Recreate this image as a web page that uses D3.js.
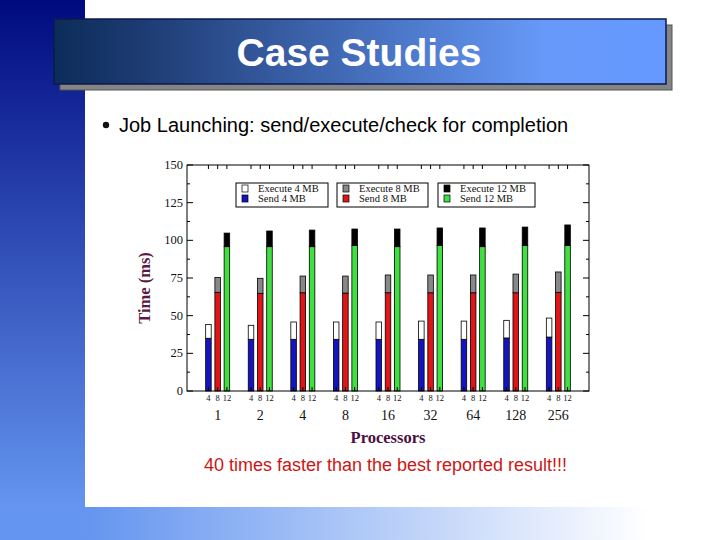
<!DOCTYPE html>
<html><head><meta charset="utf-8">
<script src="https://cdn.jsdelivr.net/npm/d3@7"></script>
<style>html,body{margin:0;padding:0;background:#fff;}svg{display:block;}</style>
</head><body>
<script>
const processors = ["1","2","4","8","16","32","64","128","256"];
const sizes = ["4","8","12"];
const send4  = [35.0,34.3,34.3,34.3,34.3,34.3,34.3,35.2,35.8];
const exec4  = [9.2,9.3,11.5,11.5,11.5,12.1,12.1,11.7,12.6];
const send8  = [65.5,64.8,65.2,65.0,65.2,65.2,65.2,65.2,65.5];
const exec8  = [9.9,10.0,11.1,11.3,11.8,11.8,11.8,12.4,13.5];
const send12 = [95.8,95.8,95.8,96.5,95.8,96.5,95.8,96.5,96.5];
const exec12 = [9.0,10.4,11.0,11.0,11.7,11.7,12.4,12.3,13.7];
const yTicks = [0,25,50,75,100,125,150];
const legendLabels = [["Execute 4 MB","Send 4 MB"],["Execute 8 MB","Send 8 MB"],["Execute 12 MB","Send 12 MB"]];

const W=720,H=540;
const svg=d3.select("body").append("svg").attr("width",W).attr("height",H);
const defs=svg.append("defs");
const g1=defs.append("linearGradient").attr("id","leftg").attr("x1",0).attr("y1",0).attr("x2",0).attr("y2",1);
g1.append("stop").attr("offset","0%").attr("stop-color","#000a80");
g1.append("stop").attr("offset","100%").attr("stop-color","#6495f0");
const g2=defs.append("linearGradient").attr("id","botg").attr("x1",0).attr("y1",0).attr("x2",1).attr("y2",0);
g2.append("stop").attr("offset","0%").attr("stop-color","#6495f0");
g2.append("stop").attr("offset","12%").attr("stop-color","#6495f0");
g2.append("stop").attr("offset","90%").attr("stop-color","#ffffff");
const g3=defs.append("linearGradient").attr("id","titleg").attr("x1",0).attr("y1",0).attr("x2",1).attr("y2",0);
g3.append("stop").attr("offset","0%").attr("stop-color","#0c2c58");
g3.append("stop").attr("offset","15%").attr("stop-color","#1e3c74");
g3.append("stop").attr("offset","80%").attr("stop-color","#6699f8");
g3.append("stop").attr("offset","100%").attr("stop-color","#6699ff");

// background
svg.append("rect").attr("x",0).attr("y",0).attr("width",85).attr("height",507).attr("fill","url(#leftg)");
svg.append("rect").attr("x",0).attr("y",507).attr("width",W).attr("height",33).attr("fill","url(#botg)");

// title box
svg.append("rect").attr("x",60).attr("y",25).attr("width",612).attr("height",65).attr("fill","#858585").attr("stroke","#555").attr("stroke-width",1);
svg.append("rect").attr("x",54).attr("y",19).attr("width",612).attr("height",65).attr("fill","url(#titleg)").attr("stroke","#0a1a50").attr("stroke-width",1.5);
svg.append("text").attr("x",359).attr("y",66).attr("text-anchor","middle").attr("fill","#fff")
  .attr("font-family","Liberation Sans, Arial, sans-serif").attr("font-weight","bold").attr("font-size",39).text("Case Studies");

// bullet
svg.append("circle").attr("cx",106).attr("cy",125).attr("r",3.2).attr("fill","#111");
svg.append("text").attr("x",119).attr("y",132).attr("fill","#000").attr("font-family","Liberation Sans, Arial, sans-serif")
  .attr("font-size",20).text("Job Launching: send/execute/check for completion");

// chart
const L=187,R=589,T=165,B=391;
const x=d3.scaleBand().domain(processors).range([L,R]).paddingOuter(0.22).paddingInner(0);
const xs=d3.scaleBand().domain(sizes).range([-15.7,15.7]).padding(0.4);
const y=d3.scaleLinear().domain([0,150]).range([B,T]);
const serif="Liberation Serif, Times New Roman, serif";

const cg=svg.append("g");
cg.append("rect").attr("x",L).attr("y",T).attr("width",R-L).attr("height",B-T).attr("fill","#fff");

const series=[
  {size:"4",send:send4,exec:exec4,sc:"#1515c0",ec:"#ffffff"},
  {size:"8",send:send8,exec:exec8,sc:"#e01515",ec:"#888888"},
  {size:"12",send:send12,exec:exec12,sc:"#3fe03f",ec:"#000000"}
];
series.forEach(s=>{
  processors.forEach((p,i)=>{
    const bx=x(p)+x.bandwidth()/2+xs(s.size);
    const bw=xs.bandwidth();
    cg.append("rect").attr("x",bx).attr("y",y(s.send[i])).attr("width",bw).attr("height",y(0)-y(s.send[i]))
      .attr("fill",s.sc).attr("stroke","#000").attr("stroke-width",0.8);
    cg.append("rect").attr("x",bx).attr("y",y(s.send[i]+s.exec[i])).attr("width",bw).attr("height",y(s.send[i])-y(s.send[i]+s.exec[i]))
      .attr("fill",s.ec).attr("stroke","#000").attr("stroke-width",0.8);
  });
});

// axes frame
cg.append("rect").attr("x",L).attr("y",T).attr("width",R-L).attr("height",B-T).attr("fill","none").attr("stroke","#000").attr("stroke-width",1);

const minor=d3.range(12.5,150,25);
[[L,1],[R,-1]].forEach(([xx,d])=>{
  yTicks.forEach(v=>cg.append("line").attr("x1",xx).attr("x2",xx+d*6).attr("y1",y(v)).attr("y2",y(v)).attr("stroke","#000"));
  minor.forEach(v=>cg.append("line").attr("x1",xx).attr("x2",xx+d*3).attr("y1",y(v)).attr("y2",y(v)).attr("stroke","#000"));
});
yTicks.forEach(v=>cg.append("text").attr("x",L-4).attr("y",y(v)+4).attr("text-anchor","end")
  .attr("font-family",serif).attr("font-size",12.5).attr("fill","#111").text(v));

// x sub-ticks and labels
processors.forEach(p=>{
  sizes.forEach(s=>{
    const cx=x(p)+x.bandwidth()/2+xs(s)+xs.bandwidth()/2;
    cg.append("line").attr("x1",cx).attr("x2",cx).attr("y1",B).attr("y2",B-4).attr("stroke","#000");
    cg.append("line").attr("x1",cx).attr("x2",cx).attr("y1",T).attr("y2",T+4).attr("stroke","#000");
    cg.append("text").attr("x",cx).attr("y",B+10).attr("text-anchor","middle").attr("font-family",serif)
      .attr("font-size",8.5).attr("fill","#111").text(s);
  });
  cg.append("text").attr("x",x(p)+x.bandwidth()/2).attr("y",B+29).attr("text-anchor","middle").attr("font-family",serif)
    .attr("font-size",14).attr("fill","#111").text(p);
});

// axis titles
cg.append("text").attr("transform",`translate(150,${(T+B)/2+10}) rotate(-90)`).attr("text-anchor","middle")
  .attr("font-family",serif).attr("font-weight","bold").attr("font-size",16.5).attr("fill","#5a1845").text("Time (ms)");
cg.append("text").attr("x",388).attr("y",443).attr("text-anchor","middle")
  .attr("font-family",serif).attr("font-weight","bold").attr("font-size",16.5).attr("fill","#4a1040").text("Processors");

// legend
const boxes=[{x:236,w:92},{x:337,w:91},{x:438,w:97}];
boxes.forEach((b,k)=>{
  const s=series[k];
  cg.append("rect").attr("x",b.x).attr("y",183).attr("width",b.w).attr("height",24).attr("fill","#fff").attr("stroke","#000");
  [[s.ec,legendLabels[k][0],185],[s.sc,legendLabels[k][1],195]].forEach(([c,t,yy])=>{
    cg.append("rect").attr("x",b.x+6).attr("y",yy).attr("width",6).attr("height",7).attr("fill",c).attr("stroke","#000").attr("stroke-width",0.7);
    cg.append("text").attr("x",b.x+22).attr("y",yy+7).attr("font-family",serif).attr("font-size",10.5).attr("fill","#111").text(t);
  });
});

// footer
svg.append("text").attr("x",385.5).attr("y",471).attr("text-anchor","middle").attr("fill","#cc1515")
  .attr("font-family","Liberation Sans, Arial, sans-serif").attr("font-size",18).text("40 times faster than the best reported result!!!");
</script>
</body></html>
